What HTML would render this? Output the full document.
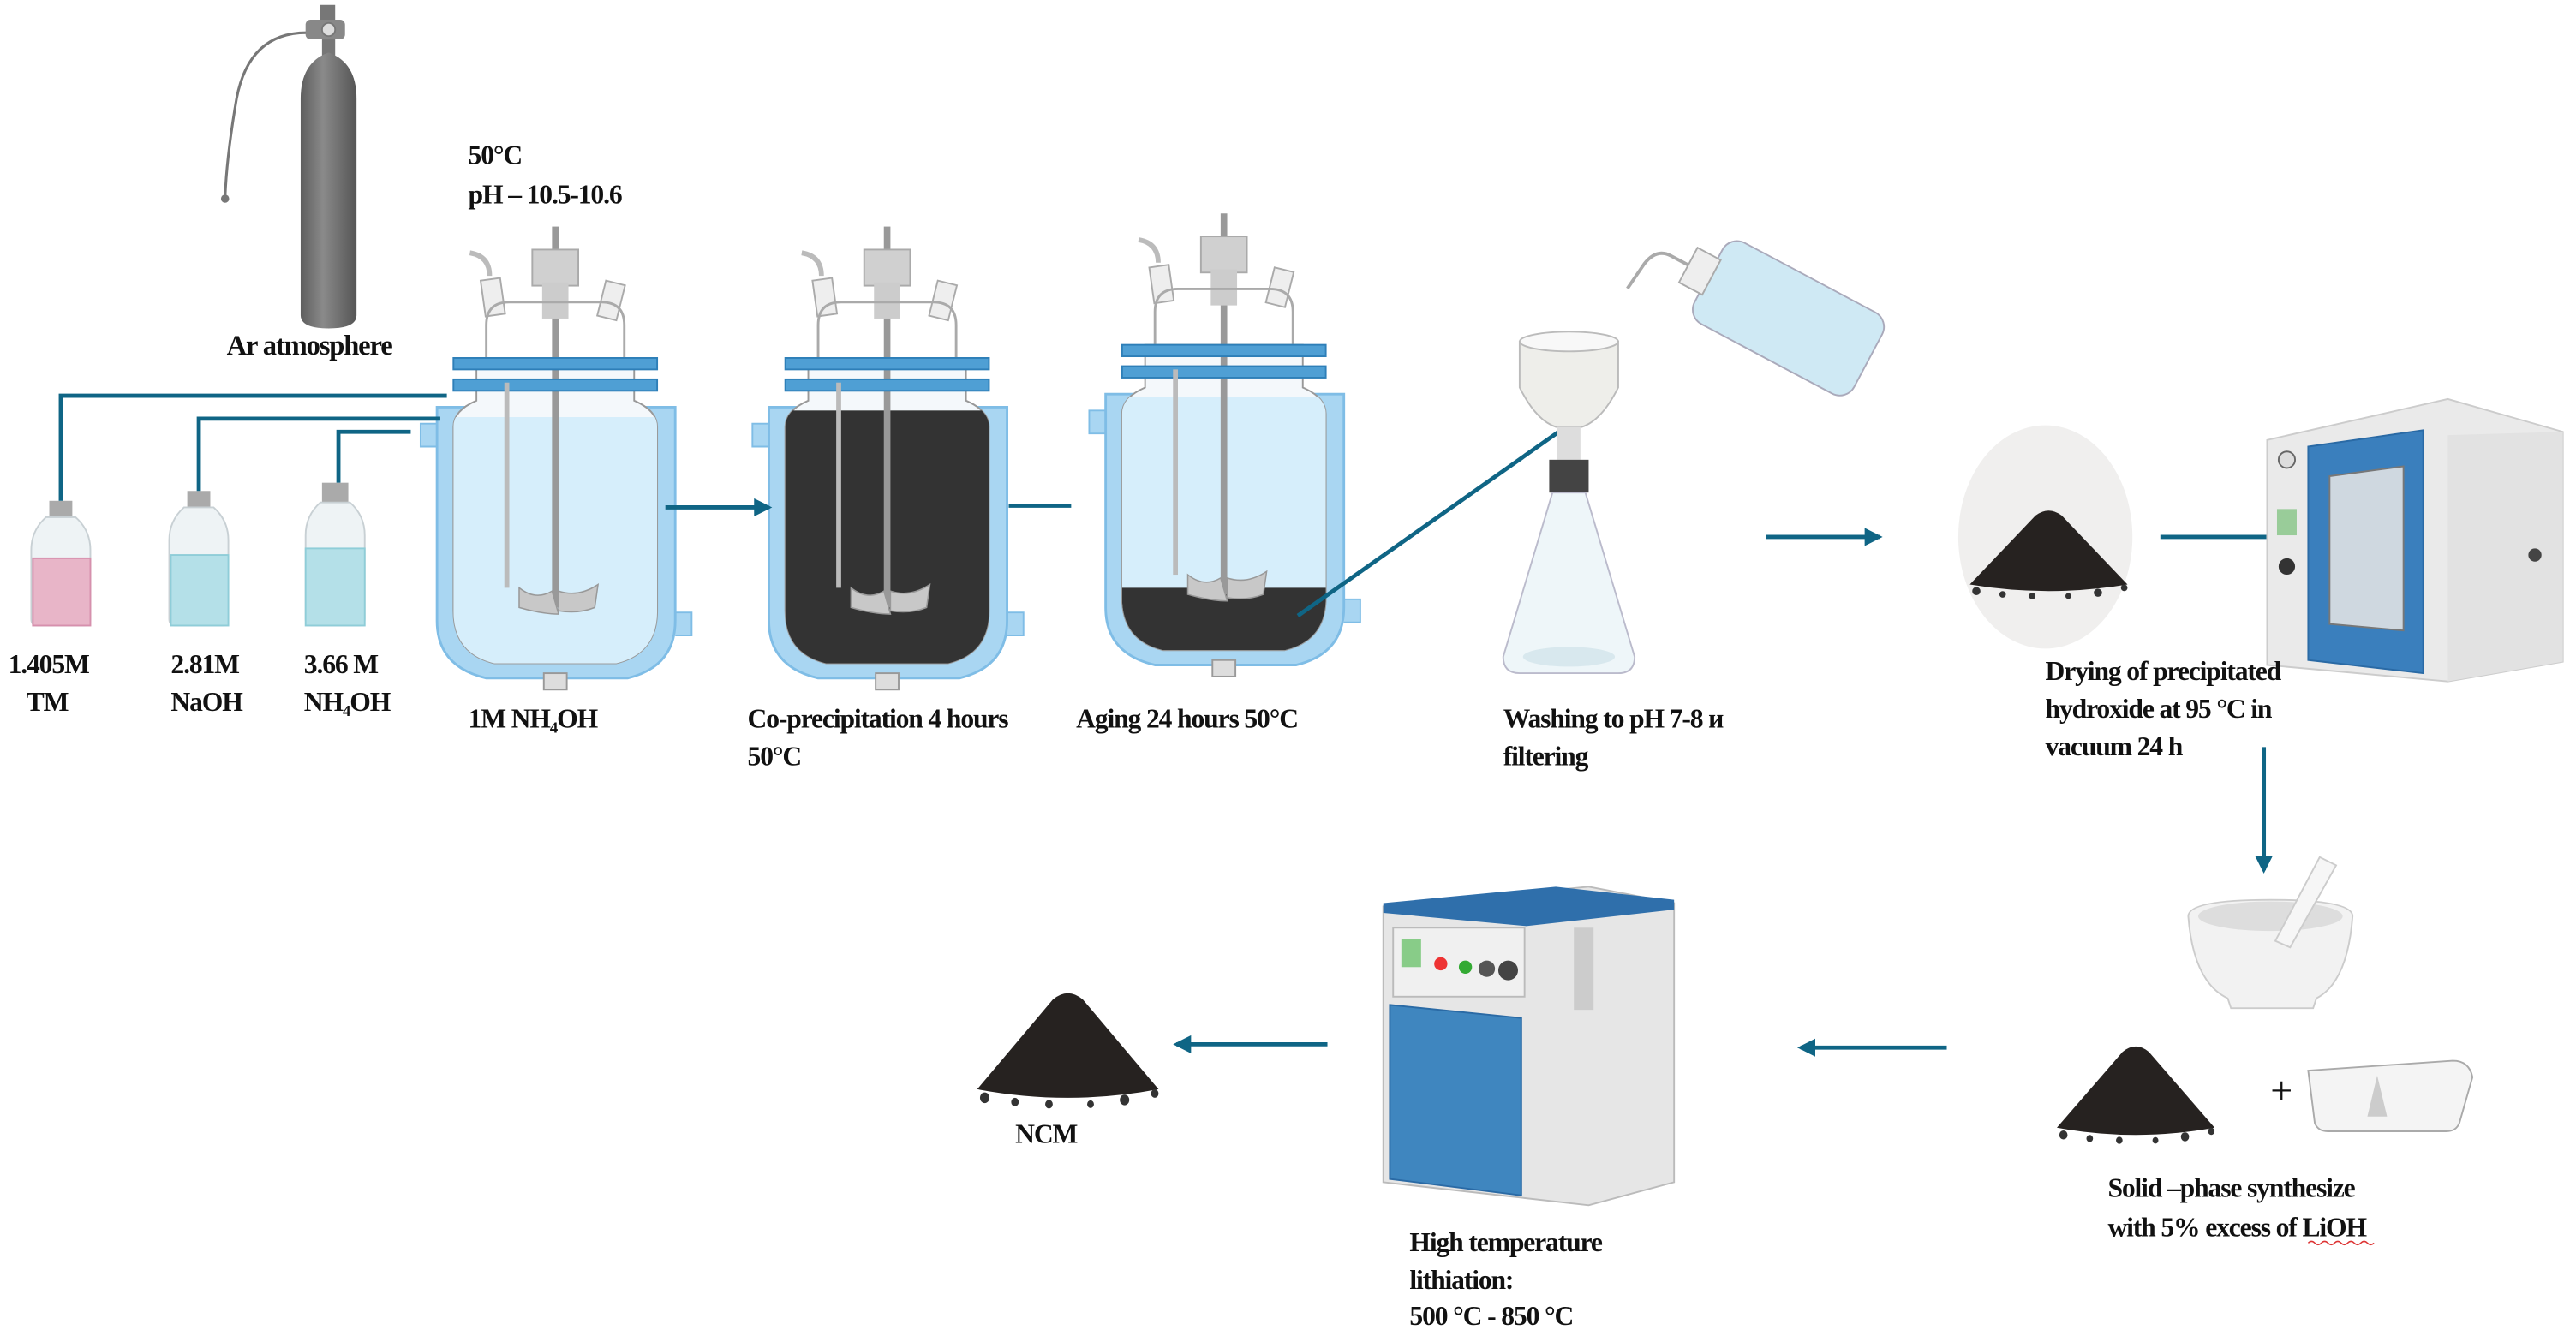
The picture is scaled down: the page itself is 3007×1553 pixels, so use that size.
<!DOCTYPE html>
<html><head><meta charset="utf-8"><style>
html,body{margin:0;padding:0;background:#fff;}
svg{display:block}
text{font-family:"Liberation Serif",serif;font-weight:bold;fill:#111;font-size:16.5px;letter-spacing:-0.6px}
</style></head><body>
<svg width="3007" height="1553" viewBox="0 0 1568 810" preserveAspectRatio="none" xmlns="http://www.w3.org/2000/svg">
<defs>
<marker id="ah" markerWidth="11" markerHeight="11" refX="9" refY="5.5" orient="auto" markerUnits="userSpaceOnUse"><path d="M0,0 L11,5.5 L0,11 z" fill="#0f6585"/></marker>
<linearGradient id="cyl" x1="0" x2="1"><stop offset="0" stop-color="#5e5e5e"/><stop offset="0.4" stop-color="#8a8a8a"/><stop offset="1" stop-color="#555"/></linearGradient>
<g id="reactorTop">
 <rect x="-2" y="-80" width="4" height="232" fill="#999"/>
 <rect x="-14" y="-66" width="28" height="22" fill="#d0d0d0" stroke="#aaa"/>
 <rect x="-8" y="-46" width="16" height="22" fill="#ccc"/>
 <rect x="-44" y="-48" width="12" height="22" fill="#eee" stroke="#aaa" transform="rotate(-8 -38 -37)"/>
 <rect x="28" y="-46" width="12" height="22" fill="#eee" stroke="#aaa" transform="rotate(14 34 -35)"/>
 <path d="M-40,-50 q0,-12 -12,-14" fill="none" stroke="#bbb" stroke-width="3"/>
 <path d="M-42,0 v-20 q0,-14 14,-14 h56 q14,0 14,14 v20" fill="none" stroke="#aaa" stroke-width="1.5"/>
</g>
<g id="jacket">
 <path d="M-72,40 h-10 v14 h10 M73,155 h10 v14 h-10" fill="#a9d6f2" stroke="#7fbde6"/>
 <path d="M-72,30 v130 q0,28 30,35 h86 q29,-7 29,-35 v-130 z" fill="#a9d6f2" stroke="#7fbde6" stroke-width="1.5"/>
 <rect x="-7" y="192" width="14" height="10" fill="#ddd" stroke="#999"/>
</g>
<g id="flanges">
 <rect x="-62" y="0" width="124" height="7" fill="#4f9fd4" stroke="#2e7fb8"/>
 <rect x="-62" y="13" width="124" height="7" fill="#4f9fd4" stroke="#2e7fb8"/>
</g>
<path id="inner" d="M-62,42 v112 q0,26 25,32 h74 q25,-6 25,-32 v-112 q0,-10 -14,-16 v-26 h-96 v26 q-14,6 -14,16 z"/>
<g id="stir">
 <rect x="-31" y="15" width="3" height="125" fill="#bbb"/>
 <path d="M-22,140 q10,8 20,2 l4,14 q-10,0 -24,-4 z M2,142 q12,4 24,-4 l-2,14 q-10,4 -22,2z" fill="#c8c8c8" stroke="#999" stroke-width="0.8"/>
</g>
<g id="pile">
 <path d="M-48,18 L-8,-24 Q0,-30 8,-24 L48,18 Q0,26 -48,18z" fill="#262220"/>
 <circle cx="-44" cy="22" r="2.5" fill="#333"/><circle cx="-28" cy="24" r="2" fill="#333"/><circle cx="30" cy="23" r="2.5" fill="#333"/><circle cx="46" cy="20" r="2" fill="#333"/><circle cx="-10" cy="25" r="2" fill="#333"/><circle cx="12" cy="25" r="1.8" fill="#333"/>
</g>
</defs>

<!-- Gas cylinder -->
<path d="M190,20 q-38,-2 -46,40 q-6,35 -7,60" fill="none" stroke="#777" stroke-width="1.6"/>
<circle cx="137" cy="121" r="2.5" fill="#777"/>
<rect x="186" y="12" width="24" height="12" fill="#888" rx="3"/>
<circle cx="200" cy="18" r="4" fill="#ddd" stroke="#777"/>
<rect x="195" y="3" width="9" height="9" fill="#777"/>
<rect x="196" y="24" width="8" height="10" fill="#777"/>
<path d="M183,60 q0,-22 17,-28 q17,6 17,28 v132 q0,8 -17,8 q-17,0 -17,-8z" fill="url(#cyl)"/>
<text x="138" y="216" style="font-size:17px">Ar atmosphere</text>
<text x="285" y="100">50°C</text>
<text x="285" y="124">pH – 10.5-10.6</text>

<!-- reactor 1 -->
<g transform="translate(338,218)">
 <use href="#jacket"/>
 <use href="#inner" fill="#f4f8fb" stroke="#999"/>
 <clipPath id="c1"><use href="#inner"/></clipPath>
 <rect x="-70" y="36" width="140" height="160" fill="#d6eefb" clip-path="url(#c1)"/>
 <use href="#reactorTop"/><use href="#flanges"/><use href="#stir"/>
</g>
<!-- reactor 2 -->
<g transform="translate(540,218)">
 <use href="#jacket"/>
 <use href="#inner" fill="#f4f8fb" stroke="#999"/>
 <rect x="-70" y="32" width="140" height="170" fill="#333" clip-path="url(#c1)"/>
 <use href="#reactorTop"/><use href="#flanges"/><use href="#stir"/>
</g>
<!-- reactor 3 -->
<g transform="translate(745,210)">
 <use href="#jacket"/>
 <use href="#inner" fill="#f4f8fb" stroke="#999"/>
 <rect x="-70" y="32" width="140" height="170" fill="#d6eefb" clip-path="url(#c1)"/>
 <rect x="-70" y="148" width="140" height="60" fill="#333" clip-path="url(#c1)"/>
 <use href="#reactorTop"/><use href="#flanges"/><use href="#stir"/>
</g>

<!-- bottles -->
<g>
 <rect x="30" y="305" width="14" height="10" fill="#aaa"/>
 <path d="M28,315 h18 q9,8 9,20 v42 q0,4 -4,4 h-28 q-4,0 -4,-4 v-42 q0,-12 9,-20z" fill="#eef3f5" stroke="#c8d0d4"/>
 <rect x="20" y="340" width="35" height="41" fill="#e8b5c8" stroke="#d690ad"/>
 <rect x="114" y="299" width="14" height="10" fill="#aaa"/>
 <path d="M112,309 h18 q9,8 9,20 v48 q0,4 -4,4 h-28 q-4,0 -4,-4 v-48 q0,-12 9,-20z" fill="#eef3f5" stroke="#c8d0d4"/>
 <rect x="104" y="338" width="35" height="43" fill="#b4e0e8" stroke="#8fcdd8"/>
 <rect x="196" y="294" width="16" height="12" fill="#aaa"/>
 <path d="M195,306 h18 q9,8 9,20 v51 q0,4 -4,4 h-28 q-4,0 -4,-4 v-51 q0,-12 9,-20z" fill="#eef3f5" stroke="#c8d0d4"/>
 <rect x="186" y="334" width="36" height="47" fill="#b4e0e8" stroke="#8fcdd8"/>
</g>
<g fill="none" stroke="#0f6585" stroke-width="2.5">
 <path d="M37,305 V241 H272"/>
 <path d="M121,299 V255 H268"/>
 <path d="M206,294 V263 H250"/>
 <path d="M405,309 H468" marker-end="url(#ah)"/>
 <path d="M614,308 H652"/>
 <path d="M790,375 L970,248" marker-end="url(#ah)"/>
 <path d="M1075,327 H1144" marker-end="url(#ah)"/>
 <path d="M1315,327 H1390" marker-end="url(#ah)"/>
 <path d="M1378,455 V530" marker-end="url(#ah)"/>
 <path d="M1185,638 H1096" marker-end="url(#ah)"/>
 <path d="M808,636 H716" marker-end="url(#ah)"/>
</g>

<!-- labels -->
<text x="5" y="410">1.405M</text><text x="16" y="433">TM</text>
<text x="104" y="410">2.81M</text><text x="104" y="433">NaOH</text>
<text x="185" y="410">3.66 M</text><text x="185" y="433">NH₄OH</text>
<text x="285" y="443">1M NH₄OH</text>
<text x="455" y="443">Co-precipitation 4 hours</text>
<text x="455" y="466">50°C</text>
<text x="655" y="443">Aging 24 hours 50°C</text>

<!-- filtration -->
<g transform="translate(1040,168) rotate(28)">
 <rect x="0" y="-28" width="110" height="56" rx="10" fill="#cfe9f4" stroke="#aab"/>
 <rect x="-14" y="-12" width="16" height="24" fill="#eee" stroke="#aaa"/>
 <path d="M-14,0 h-12 q-10,0 -12,12 l-2,18" fill="none" stroke="#aaa" stroke-width="2"/>
</g>
<path d="M925,208 h60 v28 q-10,20 -22,24 h-16 q-12,-4 -22,-24z" fill="#eeeeea" stroke="#bbb"/>
<ellipse cx="955" cy="208" rx="30" ry="6" fill="#f8f8f8" stroke="#bbb"/>
<rect x="948" y="260" width="14" height="20" fill="#ddd"/>
<rect x="943" y="280" width="24" height="20" fill="#444"/>
<path d="M945,300 h20 l30,100 q0,10 -10,10 h-60 q-10,0 -10,-10z" fill="#eef6f9" stroke="#bbc"/>
<ellipse cx="955" cy="400" rx="28" ry="6" fill="#d8e8ee"/>
<text x="915" y="443">Washing to pH 7-8 и</text>
<text x="915" y="466">filtering</text>

<!-- powder circle -->
<ellipse cx="1245" cy="327" rx="53" ry="68" fill="#f0efee"/>
<use href="#pile" x="1247" y="338"/>

<!-- oven -->
<path d="M1380,268 l110,-25 l70,20 v140 l-70,12 l-110,-10z" fill="#eaeaea" stroke="#ccc"/>
<path d="M1490,265 l70,-2 v140 l-70,12z" fill="#e2e2e2"/>
<path d="M1405,272 l70,-10 v148 l-70,-8z" fill="#3a7fbd" stroke="#2a6aa5"/>
<path d="M1418,290 l45,-6 v100 l-45,-4z" fill="#cfd8e0" stroke="#777"/>
<circle cx="1392" cy="280" r="5" fill="#ddd" stroke="#666"/>
<rect x="1386" y="310" width="12" height="16" fill="#9c9"/>
<circle cx="1392" cy="345" r="5" fill="#333"/>
<circle cx="1543" cy="338" r="4" fill="#444"/>
<text x="1245" y="414">Drying of precipitated</text>
<text x="1245" y="437">hydroxide at 95 °C in</text>
<text x="1245" y="460">vacuum 24 h</text>

<!-- mortar -->
<path d="M1332,558 q0,-10 50,-10 q50,0 50,10 q-3,40 -22,50 l-2,6 h-50 l-2,-6 q-21,-10 -24,-50z" fill="#f2f2f2" stroke="#ccc"/>
<ellipse cx="1382" cy="558" rx="44" ry="9" fill="#ddd"/>
<path d="M1412,522 l10,5 l-28,50 l-9,-4z" fill="#f6f6f6" stroke="#ccc"/>
<g transform="translate(1300,667) scale(1,1.1)"><use href="#pile"/></g>
<text x="1382" y="672" style="font-weight:normal;font-size:24px">+</text>
<path d="M1405,652 l88,-6 q10,0 12,10 l-8,28 q-2,5 -8,5 h-72 q-6,0 -8,-5 z" fill="#f4f4f4" stroke="#aaa"/>
<path d="M1447,655 l6,25 h-12z" fill="#ccc"/>
<text x="1283" y="729">Solid –phase synthesize</text>
<text x="1283" y="753">with 5% excess of LiOH</text>
<path d="M1405,757 q2,-2 4,0 t4,0 t4,0 t4,0 t4,0 t4,0 t4,0 t4,0 t4,0 t4,0" fill="none" stroke="#d33" stroke-width="0.8"/>

<!-- furnace -->
<path d="M842,552 l125,-12 l52,10 v170 l-52,14 l-125,-14z" fill="#e6e6e6" stroke="#bbb"/>
<path d="M842,550 l105,-10 l72,8 v6 l-90,10 l-87,-8z" fill="#2f6fab"/>
<rect x="848" y="565" width="80" height="42" fill="#f0f0f0" stroke="#bbb"/>
<rect x="853" y="572" width="12" height="17" fill="#8c8"/>
<circle cx="877" cy="587" r="4" fill="#e33"/><circle cx="892" cy="589" r="4" fill="#3a3"/>
<circle cx="905" cy="590" r="5" fill="#555"/><circle cx="918" cy="591" r="6" fill="#444"/>
<path d="M846,612 l80,8 v108 l-80,-10z" fill="#3f86bf" stroke="#2a6aa5"/>
<rect x="958" y="565" width="12" height="50" fill="#ccc"/>
<text x="858" y="762">High temperature</text>
<text x="858" y="785">lithiation:</text>
<text x="858" y="807">500 °C - 850 °C</text>

<!-- NCM -->
<g transform="translate(650,640) scale(1.15,1.3)"><use href="#pile"/></g>
<text x="618" y="696">NCM</text>
</svg>
</body></html>
